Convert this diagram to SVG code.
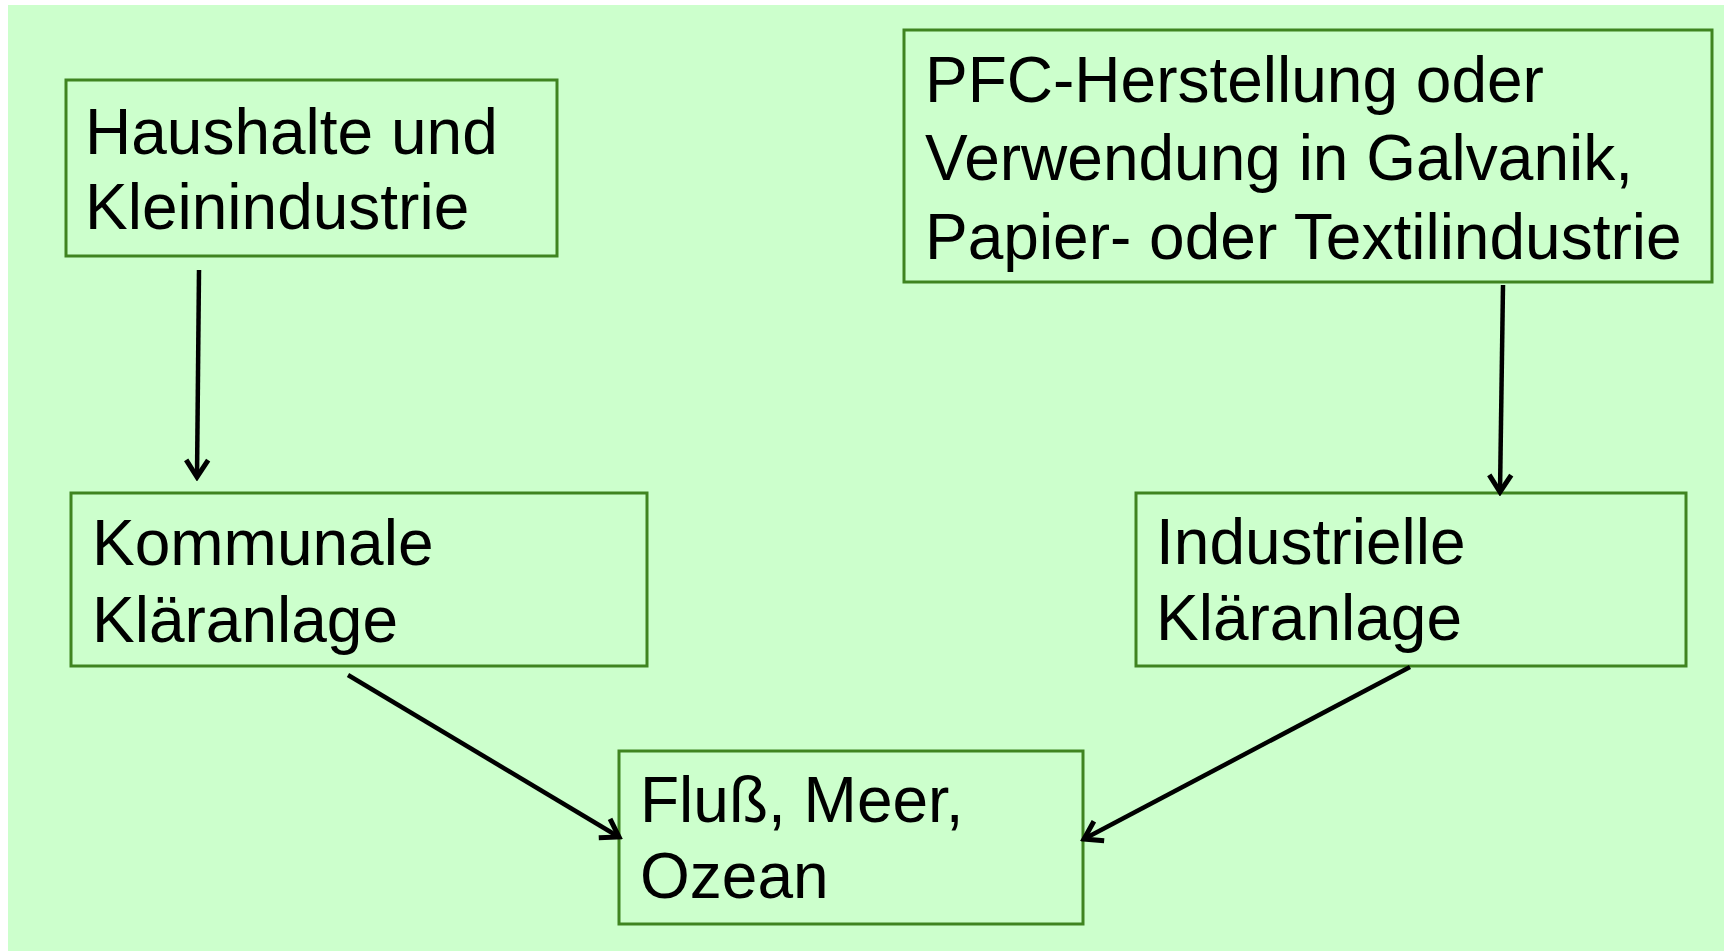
<svg xmlns="http://www.w3.org/2000/svg" width="1724" height="951" viewBox="0 0 1724 951">
  <style>
    .box { fill: #ccffcc; stroke: #3f8420; stroke-width: 3; }
    .lbl { font-family: "Liberation Sans", Arial, Helvetica, sans-serif; font-size: 64px; fill: #000000; }
    .conn { stroke: #000000; stroke-width: 4.5; fill: none; marker-end: url(#arrow); }
  </style>
  <defs>
    <marker id="arrow" markerUnits="userSpaceOnUse" viewBox="0 0 24 28" markerWidth="24" markerHeight="28" refX="20" refY="14" orient="auto">
      <path d="M3,3 L20,14 L3,25" fill="none" stroke="#000000" stroke-width="5" stroke-linejoin="miter"/>
    </marker>
  </defs>
  <rect x="0" y="0" width="1724" height="951" fill="#ffffff"/>
  <rect x="8" y="5" width="1716" height="946" fill="#ccffcc"/>

  <g id="node-haushalte">
    <rect class="box" x="66" y="80" width="491" height="176"/>
    <text class="lbl" x="85" y="154">Haushalte und</text>
    <text class="lbl" x="85" y="229">Kleinindustrie</text>
  </g>

  <g id="node-pfc">
    <rect class="box" x="904" y="30" width="808" height="252"/>
    <text class="lbl" x="925" y="102">PFC-Herstellung oder</text>
    <text class="lbl" x="925" y="180">Verwendung in Galvanik,</text>
    <text class="lbl" x="925" y="259">Papier- oder Textilindustrie</text>
  </g>

  <g id="node-kommunal">
    <rect class="box" x="71" y="493" width="576" height="173"/>
    <text class="lbl" x="92" y="565">Kommunale</text>
    <text class="lbl" x="92" y="642">Kläranlage</text>
  </g>

  <g id="node-industriell">
    <rect class="box" x="1136" y="493" width="550" height="173"/>
    <text class="lbl" x="1156" y="564">Industrielle</text>
    <text class="lbl" x="1156" y="640">Kläranlage</text>
  </g>

  <g id="node-fluss">
    <rect class="box" x="619" y="751" width="464" height="173"/>
    <text class="lbl" x="640" y="822">Fluß, Meer,</text>
    <text class="lbl" x="640" y="898">Ozean</text>
  </g>

  <g id="connectors">
    <line class="conn" x1="199" y1="270" x2="197" y2="477"/>
    <line class="conn" x1="1503" y1="285" x2="1500" y2="492"/>
    <line class="conn" x1="348" y1="675" x2="619" y2="837"/>
    <line class="conn" x1="1410" y1="667" x2="1084" y2="839"/>
  </g>
</svg>
